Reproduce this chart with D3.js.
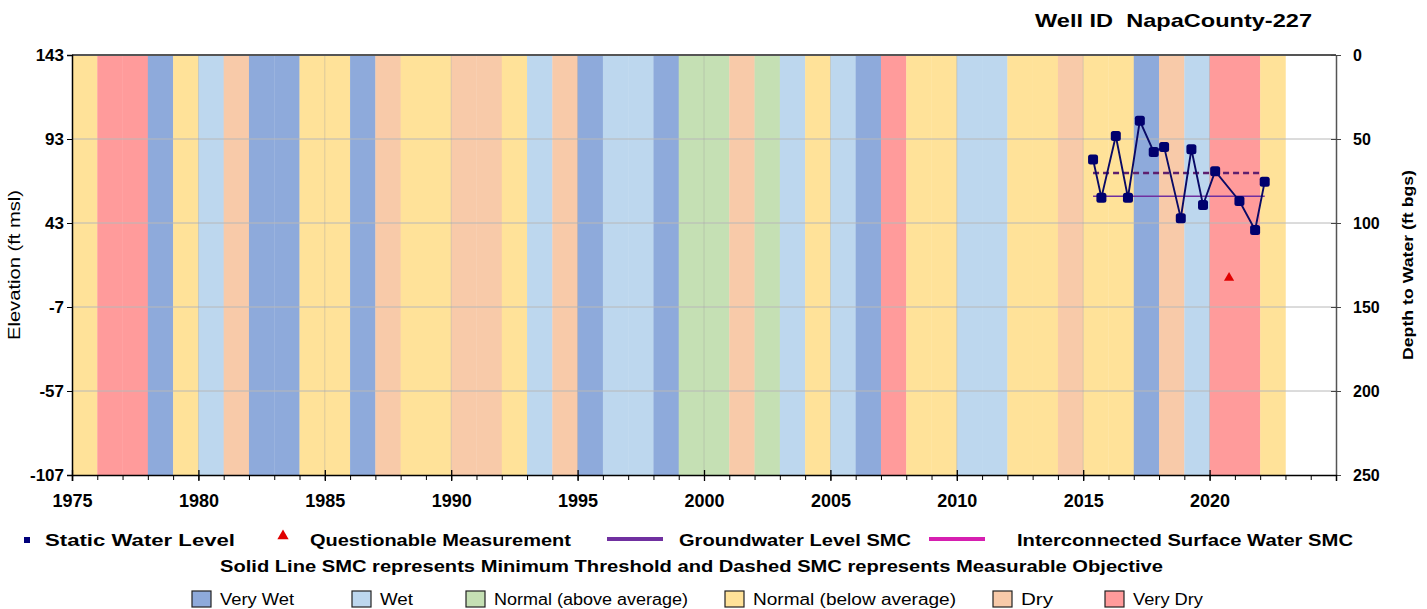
<!DOCTYPE html>
<html lang="en">
<head>
<meta charset="utf-8">
<title>Well ID NapaCounty-227</title>
<script src="https://d3js.org/d3.v7.min.js"></script>
<style>
body { margin: 0; background: #fff; font-family: "Liberation Sans", Arial, sans-serif; }
.tick text { font-weight: bold; font-size: 17px; fill: #000; }
</style>
</head>
<body>
<div id="chart"></div>
<script>

// water year type for each year (band from year to year+1)
var bandYears = d3.range(1975, 2023);
var bandTypes = ["NB","VD","VD","VW","NB","W","D","VW","VW","NB",
                 "NB","VW","D","NB","NB","D","D","NB","W","D",
                 "VW","W","W","VW","NA","NA","D","NA","W","NB",
                 "W","VW","VD","NB","NB","W","W","NB","NB","D",
                 "NB","NB","VW","D","W","VD","VD","NB"];

// static water level measurements (decimal year, depth ft bgs)
var measDates  = [2015.39, 2015.72, 2016.29, 2016.77, 2017.24, 2017.79, 2018.20,
                  2018.86, 2019.28, 2019.74, 2020.22, 2021.18, 2021.80, 2022.18];
var measDepths = [62.2, 84.9, 48.2, 84.9, 39.2, 57.7, 54.7,
                  97.1, 56.1, 89.3, 69.2, 86.9, 104.2, 75.4];

// questionable measurement
var qDates  = [2020.77];
var qDepths = [132.6];

// SMC lines (depth ft bgs)
var smcStart = 2015.39, smcEnd = 2022.18;
var minThreshold = 84.1;
var measurableObjective = 70.2;

var elevTicks  = [143, 93, 43, -7, -57, -107];
var depthTicks = [0, 50, 100, 150, 200, 250];
var yearTicks  = [1975, 1980, 1985, 1990, 1995, 2000, 2005, 2010, 2015, 2020];

var typeNames  = {VW: "Very Wet", W: "Wet", NA: "Normal (above average)",
                  NB: "Normal (below average)", D: "Dry", VD: "Very Dry"};
var typeOrder  = ["VW", "W", "NA", "NB", "D", "VD"];
var typeColors = {VW: "#8eaadb", W: "#bdd7ee", NA: "#c5e0b4",
                  NB: "#ffe299", D: "#f8caa9", VD: "#ff9b9b"};

var W = 1427, H = 609;
var plotL = 72, plotR = 1336, plotT = 55, plotB = 475;

var svg = d3.select("#chart").append("svg")
    .attr("width", W).attr("height", H);

var x = d3.scaleLinear().domain([1975, 2025]).range([plotL, plotR]);
var y = d3.scaleLinear().domain([-107, 143]).range([plotB, plotT]);
var yD = d3.scaleLinear().domain([0, 250]).range([plotT, plotB]);

// bands
svg.append("g").selectAll("rect")
    .data(bandYears)
    .enter().append("rect")
    .attr("x", function(d) { return x(d); })
    .attr("y", plotT)
    .attr("width", function(d) { return x(d + 1) - x(d) + 0.3; })
    .attr("height", plotB - plotT)
    .attr("fill", function(d, i) { return typeColors[bandTypes[i]]; });

// horizontal grid
svg.append("g").selectAll("line")
    .data(elevTicks.slice(1, 5))
    .enter().append("line")
    .attr("x1", plotL).attr("x2", plotR)
    .attr("y1", function(d) { return y(d); })
    .attr("y2", function(d) { return y(d); })
    .attr("stroke", "#b8b8b8").attr("stroke-width", 1);

// faint vertical grid every 5 years
svg.append("g").selectAll("line")
    .data(yearTicks.slice(1))
    .enter().append("line")
    .attr("x1", function(d) { return x(d); })
    .attr("x2", function(d) { return x(d); })
    .attr("y1", plotT).attr("y2", plotB)
    .attr("stroke", "#a0a0a0").attr("stroke-width", 0.8).attr("opacity", 0.45);

// top border
svg.append("line")
    .attr("x1", plotL).attr("x2", plotR).attr("y1", plotT).attr("y2", plotT)
    .attr("stroke", "#555").attr("stroke-width", 2);

// left axis
var gL = svg.append("g").attr("transform", "translate(" + plotL + ",0)")
    .call(d3.axisLeft(y).tickValues(elevTicks).tickSize(5).tickPadding(3)
        .tickFormat(function(d) { return String(d); }));
gL.select(".domain").attr("stroke", "#000").attr("stroke-width", 1.5);

// right axis
var gR = svg.append("g").attr("transform", "translate(" + plotR + ",0)")
    .call(d3.axisRight(yD).tickValues(depthTicks).tickSizeInner(5).tickSizeOuter(0).tickPadding(12));
gR.selectAll(".tick line").attr("x1", -5).attr("x2", 5).attr("stroke", "#444");
gR.selectAll(".tick text").style("font-size", "16px");
gR.select(".domain").attr("stroke", "#555").attr("stroke-width", 1.5);

// bottom axis: minor ticks every year
svg.append("g").attr("transform", "translate(0," + plotB + ")")
    .call(d3.axisBottom(x).tickValues(d3.range(1976, 2025)).tickSize(5).tickFormat(""))
    .select(".domain").remove();
var gB = svg.append("g").attr("transform", "translate(0," + plotB + ")")
    .call(d3.axisBottom(x).tickValues(yearTicks).tickSize(6).tickPadding(9).tickFormat(d3.format("d")));
gB.selectAll(".tick line").attr("y1", -5).attr("y2", 6).attr("stroke-width", 1.3);
gB.selectAll(".tick text").style("font-size", "18px");
gB.select(".domain").attr("stroke", "#000").attr("stroke-width", 1.5);
gB.selectAll(".tick text").attr("dy", "0.95em");

// axis titles
svg.append("text")
    .attr("transform", "translate(20," + ((plotT + plotB) / 2) + ") rotate(-90)")
    .attr("text-anchor", "middle")
    .style("font-size", "16px")
    .attr("textLength", 150).attr("lengthAdjust", "spacingAndGlyphs")
    .text("Elevation (ft msl)");

svg.append("text")
    .attr("transform", "translate(1413," + ((plotT + plotB) / 2) + ") rotate(-90)")
    .attr("text-anchor", "middle")
    .style("font-size", "15px").style("font-weight", "bold")
    .attr("textLength", 190).attr("lengthAdjust", "spacingAndGlyphs")
    .text("Depth to Water (ft bgs)");

// title
svg.append("text")
    .attr("x", 1035).attr("y", 27)
    .style("font-size", "19px").style("font-weight", "bold")
    .style("white-space", "pre")
    .attr("textLength", 277).attr("lengthAdjust", "spacingAndGlyphs")
    .text("Well ID  NapaCounty-227");

// SMC lines
svg.append("line")
    .attr("x1", x(smcStart)).attr("x2", x(smcEnd))
    .attr("y1", yD(minThreshold)).attr("y2", yD(minThreshold))
    .attr("stroke", "#7030a0").attr("stroke-width", 1.6);
svg.append("line")
    .attr("x1", x(smcStart)).attr("x2", x(smcEnd) - 4)
    .attr("y1", yD(measurableObjective)).attr("y2", yD(measurableObjective))
    .attr("stroke", "#5e1f6e").attr("stroke-width", 2.4)
    .attr("stroke-dasharray", "6,4");

// water level line + markers
var pts = measDates.map(function(d, i) { return [d, measDepths[i]]; });
svg.append("path")
    .datum(pts)
    .attr("fill", "none")
    .attr("stroke", "#0a0a66").attr("stroke-width", 1.9)
    .attr("d", d3.line()
        .x(function(d) { return x(d[0]); })
        .y(function(d) { return yD(d[1]); }));

svg.append("g").selectAll("rect")
    .data(pts)
    .enter().append("rect")
    .attr("x", function(d) { return x(d[0]) - 5; })
    .attr("y", function(d) { return yD(d[1]) - 5; })
    .attr("width", 10).attr("height", 10).attr("rx", 2.5)
    .attr("fill", "#00006e");

// questionable measurement
svg.append("g").selectAll("path")
    .data(qDates)
    .enter().append("path")
    .attr("transform", function(d, i) { return "translate(" + x(d) + "," + yD(qDepths[i]) + ")"; })
    .attr("d", d3.symbol().type(d3.symbolTriangle).size(45))
    .attr("fill", "#e00000");

// legend row 1
var lg = svg.append("g").style("font-weight", "bold").style("font-size", "17px");
lg.append("rect").attr("x", 24).attr("y", 537).attr("width", 6).attr("height", 6).attr("fill", "#00007a");
lg.append("text").attr("x", 45).attr("y", 546)
    .attr("textLength", 190).attr("lengthAdjust", "spacingAndGlyphs").text("Static Water Level");
lg.append("path").attr("transform", "translate(283,536)")
    .attr("d", d3.symbol().type(d3.symbolTriangle).size(55)).attr("fill", "#e00000");
lg.append("text").attr("x", 310).attr("y", 546)
    .attr("textLength", 261).attr("lengthAdjust", "spacingAndGlyphs").text("Questionable Measurement");
lg.append("line").attr("x1", 607).attr("x2", 663).attr("y1", 539).attr("y2", 539)
    .attr("stroke", "#7030a0").attr("stroke-width", 4);
lg.append("text").attr("x", 679).attr("y", 546)
    .attr("textLength", 232).attr("lengthAdjust", "spacingAndGlyphs").text("Groundwater Level SMC");
lg.append("line").attr("x1", 929).attr("x2", 985).attr("y1", 539).attr("y2", 539)
    .attr("stroke", "#d61fb0").attr("stroke-width", 4);
lg.append("text").attr("x", 1017).attr("y", 546)
    .attr("textLength", 336).attr("lengthAdjust", "spacingAndGlyphs").text("Interconnected Surface Water SMC");

// legend row 2
lg.append("text").attr("x", 220).attr("y", 572)
    .attr("textLength", 943).attr("lengthAdjust", "spacingAndGlyphs")
    .text("Solid Line SMC represents Minimum Threshold and Dashed SMC represents Measurable Objective");

// legend row 3 (water year types)
var boxX  = [192, 352, 466, 725, 993, 1105];
var textW = [74, 33, 194, 203, 32, 70];
var tl = svg.append("g").selectAll("g")
    .data(typeOrder)
    .enter().append("g")
    .attr("transform", function(d, i) { return "translate(" + boxX[i] + ",591)"; });
tl.append("rect")
    .attr("width", 19).attr("height", 16)
    .attr("fill", function(d) { return typeColors[d]; })
    .attr("stroke", "#222").attr("stroke-width", 1.2);
tl.append("text")
    .attr("x", 28).attr("y", 14)
    .style("font-size", "16px")
    .attr("textLength", function(d, i) { return textW[i]; })
    .attr("lengthAdjust", "spacingAndGlyphs")
    .text(function(d) { return typeNames[d]; });

</script>
</body>
</html>
